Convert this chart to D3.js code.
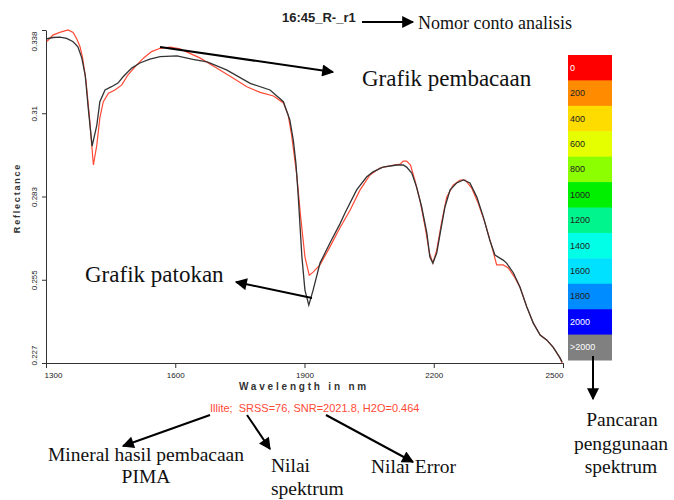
<!DOCTYPE html>
<html>
<head>
<meta charset="utf-8">
<script src="https://cdn.jsdelivr.net/npm/d3@7"></script>
<style>
  body { margin: 0; background: #fff; }
  svg { display: block; }
</style>
</head>
<body>
<svg width="674" height="500"></svg>
<script>
// Reference spectrum (black) - wavelength (nm) and reflectance
var blackWl = [1300,1316,1332,1348,1363,1374,1383,1391,1398,1407,1418,1425,1437,1452,1467,1479,1499,1518,1541,1565,
  1604,1641,1674,1719,1774,1820,1851,1866,1874,1880,1885,1894,1901,1910,1920,1936,1959,1982,1994,2021,
  2044,2059,2082,2114,2129,2137,2149,2160,2172,2184,2191,2198,2207,2215,2226,2238,2253,2269,2284,2300,
  2315,2330,2342,2361,2369,2385,2400,2416,2431,2447,2462,2477,2493,2498];
var blackRefl = [0.335,0.3355,0.3356,0.3352,0.3341,0.3324,0.3287,0.323,0.312,0.2993,0.3063,0.3141,0.318,0.3191,0.3203,0.3224,0.3253,0.327,0.3283,0.3291,
  0.3294,0.3282,0.3274,0.3247,0.3202,0.318,0.3141,0.308,0.3013,0.2937,0.2837,0.2623,0.2513,0.2463,0.2513,0.2603,0.267,0.2733,0.277,0.2847,
  0.289,0.2907,0.2923,0.293,0.293,0.2923,0.2903,0.2857,0.279,0.2703,0.2623,0.2603,0.2637,0.2703,0.279,0.2847,0.287,0.288,0.287,0.2823,
  0.2757,0.268,0.263,0.2613,0.2603,0.257,0.2523,0.2457,0.2403,0.2363,0.2347,0.2323,0.2287,0.2273];

// Measured spectrum (red)
var redWl = [1302,1316,1332,1351,1363,1371,1379,1385,1393,1401,1410,1418,1425,1433,1445,1460,1476,1490,1507,1526,
  1545,1565,1588,1611,1657,1696,1734,1766,1797,1828,1851,1862,1870,1882,1891,1901,1911,1920,1936,1959,
  1982,2006,2029,2052,2075,2098,2122,2129,2137,2146,2156,2168,2180,2190,2198,2207,2218,2230,2245,2261,
  2273,2288,2303,2319,2335,2346,2361,2373,2389,2400,2416,2431,2447,2462,2477,2493,2498];
var redRefl = [0.3341,0.3363,0.3372,0.338,0.3372,0.3352,0.3324,0.3287,0.3208,0.3087,0.293,0.2997,0.3087,0.3141,0.3169,0.318,0.3197,0.323,0.3258,0.3286,
  0.3308,0.3319,0.3323,0.3317,0.3287,0.3253,0.322,0.3191,0.3172,0.316,0.3137,0.3097,0.303,0.2897,0.2758,0.2624,0.2563,0.2573,0.2597,0.2657,
  0.272,0.278,0.2847,0.2897,0.292,0.2927,0.2933,0.2943,0.2943,0.293,0.288,0.2813,0.2723,0.2637,0.2603,0.2647,0.2737,0.2823,0.2863,0.288,
  0.288,0.2853,0.2803,0.2737,0.2657,0.2597,0.2597,0.2587,0.2553,0.2523,0.2457,0.2403,0.2363,0.2347,0.2323,0.2287,0.227];

var xTicks = [1300, 1600, 1900, 2200, 2500];
var yTicks = [0.227, 0.25475, 0.2825, 0.31025, 0.338];
var yTickLabels = ["0.227", "0.255", "0.283", "0.31", "0.338"];

var legendLabels = ["0","200","400","600","800","1000","1200","1400","1600","1800","2000",">2000"];
var legendColors = ["#ff0000","#ff8c00","#ffdc00","#e6ff00","#8cff00","#00f000","#00f58c","#00ffe6","#00e1ff","#008cff","#0000ff","#808080"];
var legendText = ["#fff","#222","#222","#222","#222","#222","#222","#222","#222","#222","#fff","#fff"];

var title = "16:45_R-_r1";
var infoText = "Illite;  SRSS=76, SNR=2021.8, H2O=0.464";

var svg = d3.select("svg");
var plotLeft = 46, plotRight = 563, plotTop = 30, plotBottom = 363;

var x = d3.scaleLinear().domain([1300, 2500]).range([plotLeft, plotRight]);
var y = d3.scaleLinear().domain([0.227, 0.338]).range([plotBottom, plotTop]);

// axes
var xAxis = svg.append("g")
  .attr("transform", "translate(0," + plotBottom + ")")
  .call(d3.axisBottom(x).tickValues(xTicks).tickSize(5).tickSizeOuter(0).tickFormat(d3.format("d")));
var yAxis = svg.append("g")
  .attr("transform", "translate(" + plotLeft + ",0)")
  .call(d3.axisLeft(y).tickValues(yTicks).tickSize(4).tickSizeOuter(0).tickFormat(function(d, i) { return yTickLabels[i]; }));

[xAxis, yAxis].forEach(function(a) {
  a.selectAll("path, line").attr("stroke", "#333");
  a.selectAll("text").attr("font-family", "Liberation Sans, Arial, sans-serif").attr("font-size", 8).attr("fill", "#222");
});
xAxis.selectAll("text").attr("y", 9).attr("dy", "0.71em")
  .attr("dx", function(d) { return d == 1300 ? 7 : (d == 2500 ? -9 : 0); });
yAxis.selectAll("text")
  .attr("x", null).attr("dy", null).attr("text-anchor", "middle")
  .attr("transform", function(d) {
    var shift = d == 0.338 ? 11 : (d == 0.227 ? -8 : 0);
    return "translate(-9," + shift + ") rotate(-90)";
  });

// spectra
var line = d3.line().x(function(d) { return x(d[0]); }).y(function(d) { return y(d[1]); });
var blackPts = blackWl.map(function(w, i) { return [w, blackRefl[i]]; });
var redPts = redWl.map(function(w, i) { return [w, redRefl[i]]; });

svg.append("path").datum(redPts).attr("d", line)
  .attr("fill", "none").attr("stroke", "#ff4a35").attr("stroke-width", 1.2);
svg.append("path").datum(blackPts).attr("d", line)
  .attr("fill", "none").attr("stroke", "#333").attr("stroke-width", 1.3);

// axis titles
svg.append("text").text("Reflectance")
  .attr("transform", "translate(20,198) rotate(-90)")
  .attr("text-anchor", "middle").attr("font-family", "Liberation Sans, Arial, sans-serif")
  .attr("font-weight", "bold").attr("font-size", 9).attr("letter-spacing", 1.8).attr("fill", "#333");
svg.append("text").text("Wavelength in nm")
  .attr("x", 304).attr("y", 390)
  .attr("text-anchor", "middle").attr("font-family", "Liberation Sans, Arial, sans-serif")
  .attr("font-weight", "bold").attr("font-size", 10).attr("letter-spacing", 2.8).attr("fill", "#333");
svg.append("text").text(title)
  .attr("x", 282).attr("y", 22).attr("font-family", "Liberation Sans, Arial, sans-serif")
  .attr("font-weight", "bold").attr("font-size", 13).attr("fill", "#222");
svg.append("text").text(infoText)
  .attr("x", 210).attr("y", 412).style("white-space", "pre")
  .attr("font-family", "Liberation Sans, Arial, sans-serif").attr("font-size", 11).attr("fill", "#ff4a35");

// legend colour bar
var cellH = (360 - 55) / legendLabels.length;
var lg = svg.append("g");
lg.selectAll("rect").data(legendLabels).enter().append("rect")
  .attr("x", 568).attr("y", function(d, i) { return 55 + i * cellH; })
  .attr("width", 44).attr("height", cellH + 0.5)
  .attr("fill", function(d, i) { return legendColors[i]; });
lg.selectAll("text").data(legendLabels).enter().append("text")
  .attr("x", 570).attr("y", function(d, i) { return 55 + i * cellH + cellH / 2 + 3; })
  .attr("font-family", "Liberation Sans, Arial, sans-serif").attr("font-size", 9)
  .attr("fill", function(d, i) { return legendText[i]; })
  .text(function(d) { return d; });

// annotation arrows
svg.append("defs").append("marker")
  .attr("id", "head").attr("viewBox", "0 0 10 10").attr("refX", 9).attr("refY", 5)
  .attr("markerWidth", 7).attr("markerHeight", 6).attr("markerUnits", "strokeWidth").attr("orient", "auto")
  .append("path").attr("d", "M0,0 L10,5 L0,10 z").attr("fill", "#000");

var arrows = [
  [[362, 22], [413, 22]],
  [[160, 47], [333, 72]],
  [[312, 298], [236, 282]],
  [[210, 415], [123, 446]],
  [[247, 415], [270, 449]],
  [[326, 415], [413, 462]],
  [[593, 356], [593, 399]]
];
svg.selectAll(".arrow").data(arrows).enter().append("line")
  .attr("class", "arrow")
  .attr("x1", function(d) { return d[0][0]; }).attr("y1", function(d) { return d[0][1]; })
  .attr("x2", function(d) { return d[1][0]; }).attr("y2", function(d) { return d[1][1]; })
  .attr("stroke", "#000").attr("stroke-width", 2).attr("marker-end", "url(#head)");

// annotation labels
var notes = [
  ["Nomor conto analisis", 418, 29, 18, "start"],
  ["Grafik pembacaan", 362, 86, 23, "start"],
  ["Grafik patokan", 85, 282, 23, "start"],
  ["Mineral hasil pembacaan", 146, 461, 19.5, "middle"],
  ["PIMA", 146, 483, 19.5, "middle"],
  ["Nilai", 271, 472, 19.5, "start"],
  ["spektrum", 271, 495, 19.5, "start"],
  ["Nilai Error", 371, 473, 19.5, "start"],
  ["Pancaran", 622, 426, 19.5, "middle"],
  ["penggunaan", 621, 450, 19.5, "middle"],
  ["spektrum", 621, 473, 19.5, "middle"]
];
svg.selectAll(".note").data(notes).enter().append("text")
  .attr("class", "note")
  .attr("x", function(d) { return d[1]; }).attr("y", function(d) { return d[2]; })
  .attr("font-size", function(d) { return d[3]; })
  .attr("text-anchor", function(d) { return d[4]; })
  .attr("font-family", "Liberation Serif, Times New Roman, serif").attr("fill", "#111")
  .text(function(d) { return d[0]; });
</script>
</body>
</html>
